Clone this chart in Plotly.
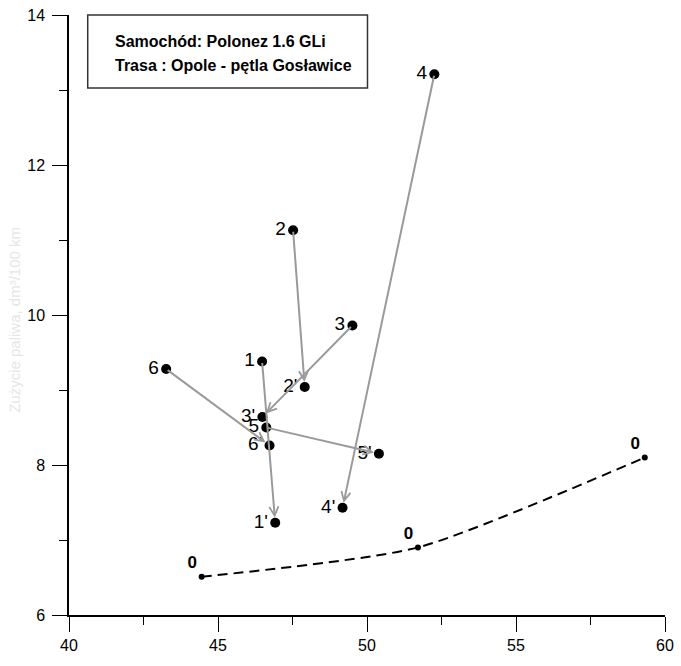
import plotly.graph_objects as go

# Fuel consumption points before (1..6) and after (1'..6') adjustment
start_labels = ["1", "2", "3", "4", "5", "6"]
start_x = [46.48, 47.52, 49.51, 52.26, 46.62, 43.26]
start_y = [9.38, 11.13, 9.86, 13.21, 8.50, 9.28]

end_labels = ["1'", "2'", "3'", "4'", "5'", "6'"]
end_x = [46.92, 47.91, 46.49, 49.18, 50.40, 46.73]
end_y = [7.23, 9.04, 8.64, 7.43, 8.15, 8.26]

# Reference curve "0"
base_labels = ["0", "0", "0"]
base_x = [44.45, 51.71, 59.32]
base_y = [6.51, 6.90, 8.10]

x_ticks = [40, 45, 50, 55, 60]
y_ticks = [6, 8, 10, 12, 14]

info_lines = ["Samochód: Polonez 1.6 GLi", "Trasa : Opole - pętla Gosławice"]
y_title = "Zużycie paliwa, dm³/100 km"

FONT = "Liberation Sans, Arial, sans-serif"

# plot area in pixels
L, R, T, B = 69, 7, 15, 51
W, H = 681, 666
PW, PH = W - L - R, H - T - B

fig = go.Figure()

fig.add_trace(go.Scatter(
    x=base_x, y=base_y, mode="lines+markers+text",
    text=base_labels, textposition="top left",
    textfont=dict(family=FONT, size=17, color="black", weight="bold"),
    line=dict(color="black", width=2, dash="10px,6px", shape="spline", smoothing=0.6),
    marker=dict(color="black", size=6),
    hoverinfo="skip", showlegend=False,
))

fig.add_trace(go.Scatter(
    x=start_x + end_x, y=start_y + end_y, mode="markers+text",
    text=start_labels + end_labels, textposition="middle left",
    textfont=dict(family=FONT, size=19, color="black"),
    marker=dict(color="black", size=10),
    hoverinfo="skip", showlegend=False,
))

# Arrows from each initial point to its adjusted counterpart
for xs, ys, xe, ye in zip(start_x, start_y, end_x, end_y):
    fig.add_annotation(
        x=xe, y=ye, ax=xs, ay=ys, xref="x", yref="y", axref="x", ayref="y",
        showarrow=True, arrowhead=5, arrowsize=0.9, arrowwidth=2,
        arrowcolor="#9a9a9a", standoff=5, text="",
    )

# Info box
fig.add_shape(type="rect", xref="paper", yref="paper",
              x0=(88 - L) / PW, x1=(372 - L) / PW,
              y0=(H - B - 88) / PH, y1=1.0,
              line=dict(color="#333333", width=1.5), fillcolor="white", layer="below")
for line_text, ypix in zip(info_lines, [41.7, 65.0]):
    fig.add_annotation(
        x=(114 - L) / PW, y=(H - B - ypix) / PH, xref="paper", yref="paper",
        xanchor="left", yanchor="middle", text=line_text, showarrow=False,
        font=dict(family=FONT, size=16, color="black", weight="bold"),
    )

# Faint vertical axis title
fig.add_annotation(
    x=(13 - L) / PW, y=(H - B - 320) / PH, xref="paper", yref="paper",
    xanchor="center", yanchor="middle", text=y_title, showarrow=False,
    textangle=-90, font=dict(family=FONT, size=15, color="#e6e6e6"),
)

axis_common = dict(
    showline=True, linecolor="black", linewidth=1.5, mirror=False,
    showgrid=False, zeroline=False,
    ticks="outside", ticklen=15, tickwidth=1.3, tickcolor="black",
    tickfont=dict(family=FONT, size=16, color="black"),
    ticklabeloverflow="allow",
)

fig.update_xaxes(range=[40, 60], tickvals=x_ticks, ticktext=[str(v) for v in x_ticks],
                 minor=dict(ticks="outside", ticklen=8, dtick=2.5, tick0=40,
                            tickcolor="black", tickwidth=1.3, showgrid=False),
                 **axis_common)
fig.update_yaxes(range=[6, 14], tickvals=y_ticks, ticktext=[str(v) for v in y_ticks],
                 minor=dict(ticks="outside", ticklen=8, dtick=1, tick0=6,
                            tickcolor="black", tickwidth=1.3, showgrid=False),
                 ticklabelstandoff=4,
                 **axis_common)

fig.update_layout(
    width=W, height=H,
    margin=dict(l=L, r=R, t=T, b=B),
    paper_bgcolor="white", plot_bgcolor="white",
)

fig.write_html("out.html")
